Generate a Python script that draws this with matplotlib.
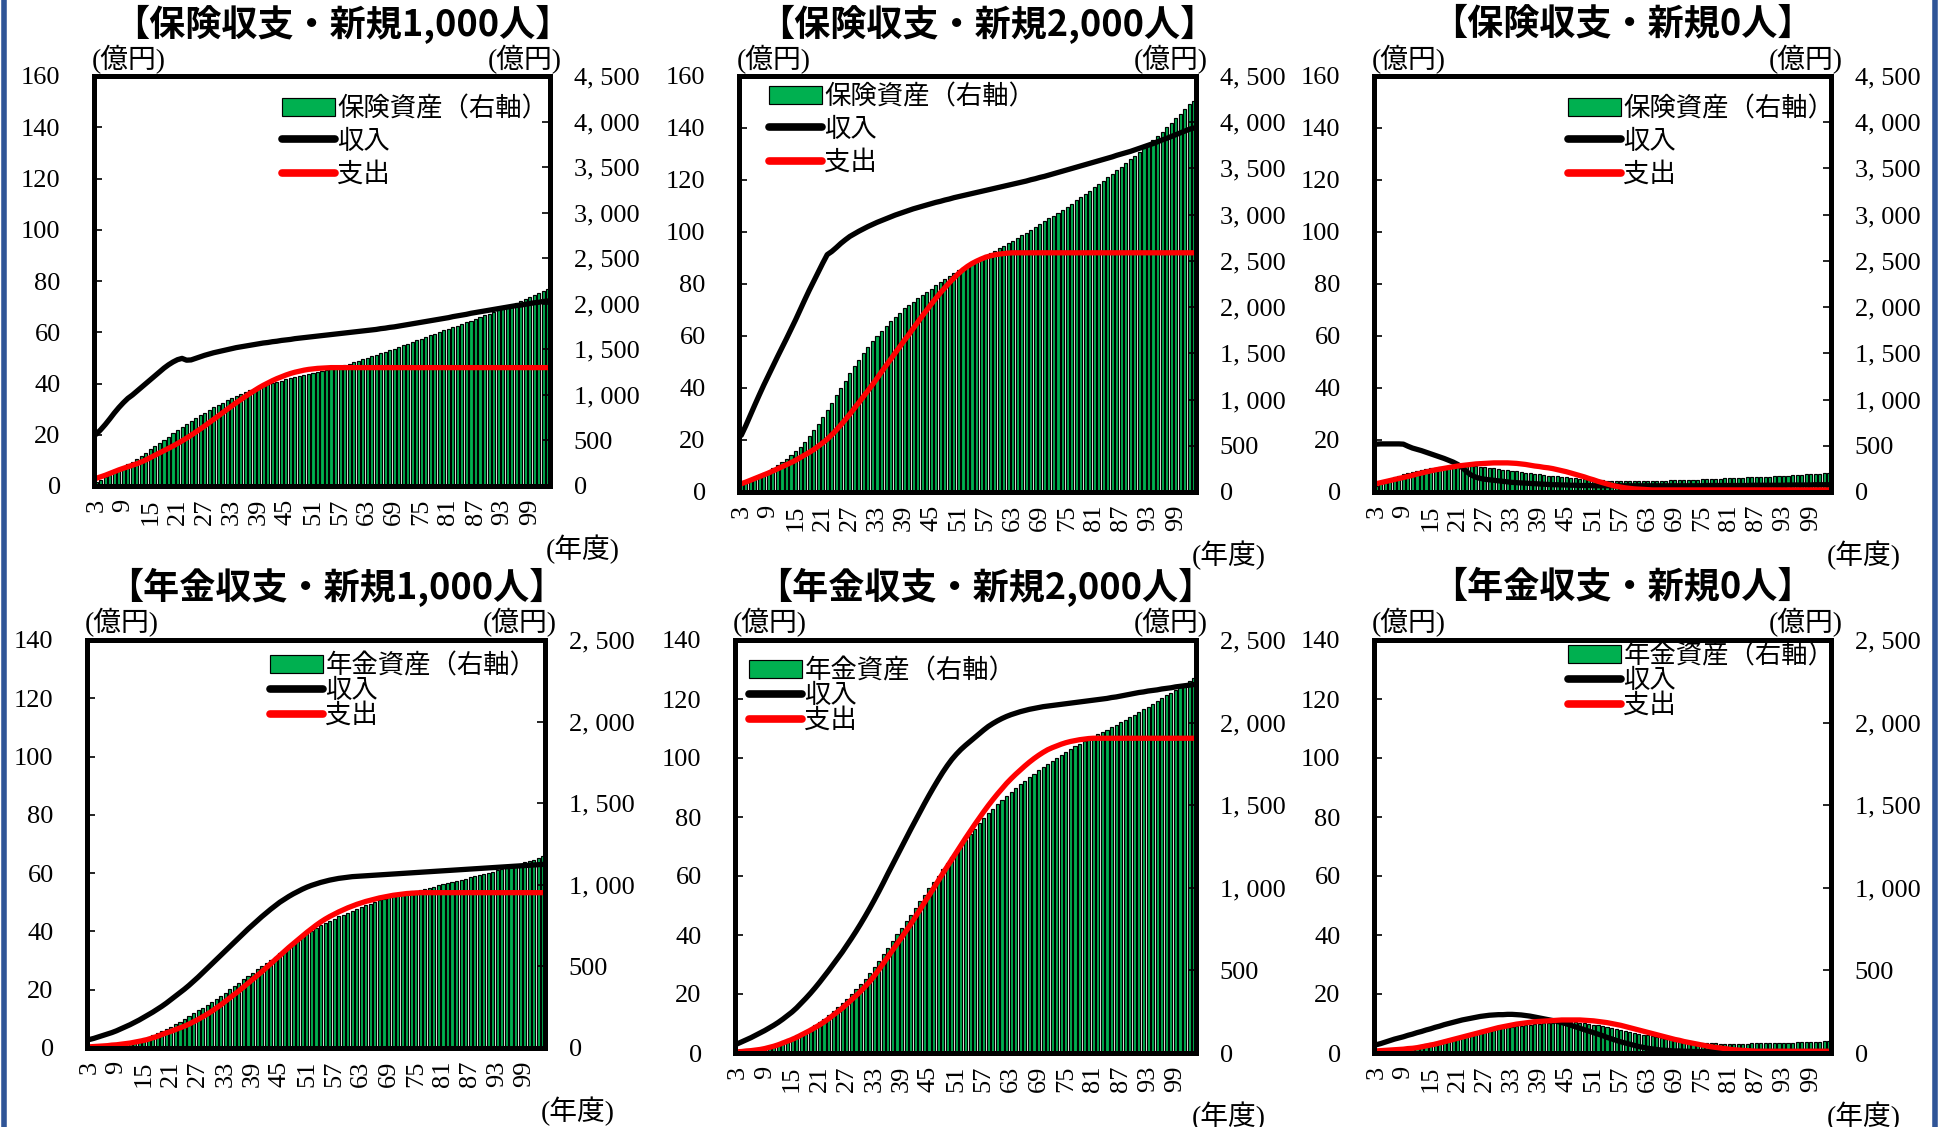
import matplotlib
matplotlib.use("Agg")
import matplotlib.pyplot as plt
from matplotlib.lines import Line2D
from matplotlib.ticker import FuncFormatter

plt.rcParams['font.family'] = ['Liberation Serif', 'Noto Sans CJK JP']

# Fiscal years on the horizontal axis
years = list(range(3, 104))

# 保険収支・新規1,000人
ins_1000_asset = [
    45, 70, 95, 122, 150, 178, 207, 237, 268, 300,
    333, 367, 402, 437, 472, 507, 542, 577, 612, 646,
    680, 713, 745, 776, 806, 835, 863, 890, 916, 941,
    965, 988, 1010, 1031, 1050, 1068, 1085, 1101, 1116, 1130,
    1144, 1157, 1170, 1182, 1194, 1206, 1218, 1230, 1242, 1254,
    1266, 1278, 1290, 1300, 1314, 1328, 1343, 1358, 1374, 1390,
    1406, 1423, 1440, 1457, 1474, 1491, 1509, 1527, 1545, 1563,
    1581, 1599, 1617, 1635, 1653, 1671, 1689, 1707, 1725, 1743,
    1761, 1779, 1797, 1815, 1834, 1853, 1872, 1891, 1910, 1930,
    1950, 1970, 1990, 2010, 2031, 2052, 2073, 2095, 2117, 2140,
    2163,
]
ins_1000_income = [
    20.2, 22.0, 24.0, 26.2, 28.5, 30.6, 32.5, 34.2, 35.5, 37.0,
    38.5, 40.0, 41.5, 43.0, 44.5, 46.0, 47.3, 48.4, 49.3, 49.8,
    49.1, 49.2, 49.8, 50.4, 51.0, 51.5, 52.0, 52.4, 52.8, 53.2,
    53.6, 54.0, 54.3, 54.6, 54.9, 55.2, 55.5, 55.8, 56.0, 56.3,
    56.5, 56.8, 57.0, 57.2, 57.5, 57.7, 57.9, 58.1, 58.3, 58.5,
    58.7, 58.9, 59.1, 59.3, 59.5, 59.7, 59.9, 60.1, 60.3, 60.5,
    60.7, 60.9, 61.1, 61.4, 61.6, 61.9, 62.1, 62.4, 62.7, 63.0,
    63.3, 63.6, 63.9, 64.2, 64.5, 64.8, 65.1, 65.4, 65.7, 66.1,
    66.4, 66.7, 67.0, 67.4, 67.7, 68.0, 68.3, 68.6, 68.9, 69.2,
    69.5, 69.8, 70.1, 70.4, 70.6, 70.9, 71.2, 71.5, 71.7, 72.0,
    72.2,
]
ins_1000_expense = [
    3.0, 3.6, 4.2, 4.9, 5.6, 6.3, 6.9, 7.5, 8.1, 8.7,
    9.4, 10.2, 11.1, 12.0, 12.9, 13.8, 14.7, 15.6, 16.6, 17.6,
    18.7, 19.8, 21.0, 22.2, 23.4, 24.7, 26.0, 27.3, 28.6, 29.9,
    31.2, 32.5, 33.7, 34.9, 36.1, 37.2, 38.3, 39.3, 40.2, 41.1,
    41.9, 42.6, 43.3, 43.9, 44.4, 44.8, 45.2, 45.5, 45.7, 45.9,
    46.0, 46.1, 46.2, 46.2, 46.2, 46.2, 46.2, 46.2, 46.2, 46.2,
    46.2, 46.2, 46.2, 46.2, 46.2, 46.2, 46.2, 46.2, 46.2, 46.2,
    46.2, 46.2, 46.2, 46.2, 46.2, 46.2, 46.2, 46.2, 46.2, 46.2,
    46.2, 46.2, 46.2, 46.2, 46.2, 46.2, 46.2, 46.2, 46.2, 46.2,
    46.2, 46.2, 46.2, 46.2, 46.2, 46.2, 46.2, 46.2, 46.2, 46.2,
    46.2,
]

# 保険収支・新規2,000人
ins_2000_asset = [
    90, 110, 135, 160, 183, 206, 232, 260, 290, 322,
    360, 400, 443, 490, 545, 605, 670, 740, 815, 890,
    965, 1045, 1125, 1205, 1285, 1360, 1430, 1500, 1570, 1630,
    1690, 1745, 1800, 1850, 1895, 1940, 1985, 2025, 2060, 2095,
    2130, 2165, 2200, 2235, 2270, 2305, 2337, 2368, 2398, 2427,
    2455, 2482, 2508, 2534, 2560, 2586, 2612, 2638, 2665, 2692,
    2720, 2749, 2778, 2807, 2837, 2867, 2897, 2928, 2959, 2990,
    3022, 3054, 3087, 3120, 3154, 3189, 3224, 3260, 3296, 3332,
    3368, 3405, 3442, 3480, 3518, 3557, 3597, 3637, 3678, 3720,
    3763, 3807, 3852, 3898, 3945, 3993, 4042, 4092, 4143, 4195,
    4230,
]
ins_2000_income = [
    21.8, 25.5, 29.5, 33.5, 37.4, 41.2, 44.8, 48.4, 52.0, 55.5,
    59.0, 62.6, 66.2, 70.0, 73.8, 77.5, 81.0, 84.5, 88.0, 91.3,
    92.5, 94.0, 95.6, 97.0, 98.3, 99.3, 100.3, 101.2, 102.1, 102.9,
    103.7, 104.4, 105.1, 105.8, 106.5, 107.1, 107.7, 108.3, 108.9, 109.4,
    109.9, 110.4, 110.9, 111.4, 111.8, 112.3, 112.7, 113.2, 113.6, 114.0,
    114.4, 114.8, 115.2, 115.6, 116.0, 116.4, 116.8, 117.2, 117.6, 118.0,
    118.4, 118.8, 119.2, 119.6, 120.1, 120.5, 121.0, 121.4, 121.9, 122.4,
    122.9, 123.4, 123.9, 124.4, 124.9, 125.4, 125.9, 126.4, 126.9, 127.4,
    127.9, 128.4, 128.9, 129.5, 130.0, 130.5, 131.0, 131.6, 132.2, 132.8,
    133.4, 134.0, 134.7, 135.4, 136.0, 136.7, 137.4, 138.1, 138.8, 139.5,
    140.0,
]
ins_2000_expense = [
    3.2, 3.8, 4.5, 5.2, 5.9, 6.6, 7.3, 8.1, 8.9, 9.7,
    10.5, 11.3, 12.2, 13.2, 14.2, 15.2, 16.3, 17.6, 18.9, 20.3,
    22.0, 23.8, 25.8, 27.8, 30.0, 32.2, 34.4, 36.7, 39.0, 41.3,
    43.7, 46.2, 48.6, 51.0, 53.4, 55.8, 58.2, 60.5, 62.9, 65.3,
    67.7, 70.0, 72.3, 74.5, 76.6, 78.6, 80.5, 82.3, 84.0, 85.5,
    86.8, 87.9, 88.8, 89.6, 90.3, 90.8, 91.2, 91.5, 91.7, 91.9,
    92.0, 92.0, 92.0, 92.0, 92.0, 92.0, 92.0, 92.0, 92.0, 92.0,
    92.0, 92.0, 92.0, 92.0, 92.0, 92.0, 92.0, 92.0, 92.0, 92.0,
    92.0, 92.0, 92.0, 92.0, 92.0, 92.0, 92.0, 92.0, 92.0, 92.0,
    92.0, 92.0, 92.0, 92.0, 92.0, 92.0, 92.0, 92.0, 92.0, 92.0,
    92.0,
]

# 保険収支・新規0人
ins_0_asset = [
    70, 95, 118, 140, 160, 177, 192, 205, 217, 228,
    238, 247, 255, 262, 268, 273, 277, 280, 282, 283,
    283, 282, 279, 275, 270, 264, 257, 250, 243, 236,
    229, 222, 215, 208, 202, 196, 190, 184, 178, 173,
    168, 163, 158, 153, 148, 144, 140, 136, 132, 128,
    125, 122, 120, 118, 117, 116, 116, 116, 117, 118,
    119, 120, 121, 123, 124, 126, 127, 129, 130, 132,
    133, 135, 137, 139, 141, 143, 145, 147, 149, 151,
    153, 155, 157, 159, 161, 163, 165, 167, 169, 172,
    175, 178, 181, 184, 187, 190, 193, 196, 199, 202,
    205,
]
ins_0_income = [
    18.4, 18.5, 18.5, 18.5, 18.5, 18.5, 18.4, 17.6, 16.9, 16.4,
    15.9, 15.3, 14.7, 14.1, 13.5, 12.9, 12.2, 11.5, 10.6, 9.4,
    7.8, 6.5, 5.7, 5.2, 4.9, 4.7, 4.5, 4.3, 4.1, 3.9,
    3.7, 3.6, 3.5, 3.4, 3.3, 3.2, 3.1, 3.0, 2.9, 2.8,
    2.8, 2.7, 2.7, 2.6, 2.6, 2.5, 2.5, 2.5, 2.4, 2.4,
    2.4, 2.4, 2.4, 2.4, 2.4, 2.4, 2.4, 2.4, 2.4, 2.4,
    2.4, 2.4, 2.4, 2.4, 2.4, 2.4, 2.4, 2.4, 2.4, 2.4,
    2.4, 2.4, 2.4, 2.5, 2.5, 2.5, 2.5, 2.5, 2.5, 2.5,
    2.5, 2.5, 2.5, 2.6, 2.6, 2.6, 2.6, 2.6, 2.6, 2.6,
    2.6, 2.7, 2.7, 2.7, 2.7, 2.7, 2.7, 2.8, 2.8, 2.8,
    2.8,
]
ins_0_expense = [
    3.2, 3.6, 4.0, 4.4, 4.8, 5.2, 5.6, 6.0, 6.4, 6.9,
    7.3, 7.7, 8.1, 8.5, 8.8, 9.1, 9.4, 9.7, 10.0, 10.2,
    10.4, 10.6, 10.8, 10.9, 11.0, 11.1, 11.2, 11.2, 11.2, 11.2,
    11.1, 11.0, 10.8, 10.6, 10.3, 10.0, 9.8, 9.5, 9.3, 9.0,
    8.6, 8.2, 7.8, 7.3, 6.8, 6.3, 5.8, 5.2, 4.7, 4.1,
    3.6, 3.1, 2.6, 2.2, 1.9, 1.6, 1.4, 1.2, 1.1, 1.0,
    0.9, 0.8, 0.8, 0.8, 0.8, 0.8, 0.8, 0.8, 0.8, 0.8,
    0.8, 0.8, 0.8, 0.8, 0.8, 0.8, 0.8, 0.8, 0.8, 0.8,
    0.8, 0.8, 0.8, 0.8, 0.8, 0.8, 0.8, 0.8, 0.8, 0.8,
    0.8, 0.8, 0.8, 0.8, 0.8, 0.8, 0.8, 0.8, 0.8, 0.8,
    0.8,
]

# 年金収支・新規1,000人
pen_1000_asset = [
    5, 7, 9, 12, 15, 18, 22, 26, 31, 37,
    44, 52, 61, 70, 80, 92, 104, 117, 131, 146,
    162, 178, 195, 212, 230, 248, 266, 284, 302, 320,
    339, 359, 379, 400, 421, 442, 462, 482, 502, 521,
    540, 560, 580, 600, 620, 640, 660, 680, 700, 718,
    735, 751, 766, 780, 793, 806, 818, 830, 842, 853,
    864, 875, 885, 895, 905, 914, 923, 931, 939, 946,
    953, 959, 965, 971, 977, 983, 989, 996, 1003, 1010,
    1017, 1024, 1031, 1038, 1045, 1052, 1059, 1066, 1073, 1080,
    1088, 1096, 1104, 1112, 1120, 1128, 1137, 1146, 1155, 1165,
    1175,
]
pen_1000_income = [
    2.9, 3.3, 3.8, 4.3, 4.8, 5.3, 5.9, 6.6, 7.3, 8.0,
    8.8, 9.6, 10.5, 11.4, 12.3, 13.3, 14.3, 15.4, 16.6, 17.8,
    19.0, 20.2, 21.5, 22.9, 24.3, 25.8, 27.3, 28.8, 30.3, 31.8,
    33.3, 34.8, 36.3, 37.8, 39.3, 40.8, 42.2, 43.6, 45.0, 46.3,
    47.6, 48.8, 50.0, 51.0, 52.0, 52.9, 53.7, 54.5, 55.2, 55.8,
    56.3, 56.8, 57.2, 57.6, 57.9, 58.2, 58.4, 58.6, 58.8, 58.9,
    59.0, 59.1, 59.2, 59.3, 59.4, 59.5, 59.6, 59.7, 59.8, 59.9,
    60.0, 60.1, 60.2, 60.3, 60.4, 60.5, 60.6, 60.7, 60.8, 60.9,
    61.0, 61.1, 61.2, 61.3, 61.4, 61.5, 61.6, 61.7, 61.8, 61.9,
    62.0, 62.1, 62.2, 62.3, 62.4, 62.5, 62.6, 62.7, 62.8, 62.9,
    63.0,
]
pen_1000_expense = [
    0.4, 0.5, 0.6, 0.7, 0.8, 1.0, 1.1, 1.3, 1.5, 1.7,
    2.0, 2.3, 2.6, 3.0, 3.5, 4.0, 4.6, 5.2, 5.7, 6.3,
    6.9, 7.5, 8.2, 9.0, 9.8, 10.7, 11.6, 12.6, 13.7, 14.8,
    16.0, 17.2, 18.4, 19.6, 20.9, 22.2, 23.5, 24.8, 26.1, 27.5,
    28.9, 30.3, 31.7, 33.1, 34.5, 35.8, 37.1, 38.4, 39.7, 40.9,
    42.1, 43.2, 44.2, 45.1, 45.9, 46.7, 47.4, 48.1, 48.7, 49.3,
    49.8, 50.3, 50.7, 51.1, 51.5, 51.8, 52.1, 52.4, 52.6, 52.8,
    53.0, 53.1, 53.2, 53.3, 53.3, 53.3, 53.3, 53.3, 53.3, 53.3,
    53.3, 53.3, 53.3, 53.3, 53.3, 53.3, 53.3, 53.3, 53.3, 53.3,
    53.3, 53.3, 53.3, 53.3, 53.3, 53.3, 53.3, 53.3, 53.3, 53.3,
    53.3,
]

# 年金収支・新規2,000人
pen_2000_asset = [
    8, 11, 15, 19, 24, 30, 36, 43, 51, 60,
    71, 82, 94, 107, 121, 136, 152, 169, 188, 208,
    229, 252, 276, 302, 329, 357, 387, 418, 450, 484,
    520, 558, 598, 638, 678, 718, 758, 798, 838, 878,
    918, 958, 997, 1036, 1074, 1112, 1149, 1186, 1222, 1257,
    1291, 1325, 1358, 1390, 1421, 1451, 1479, 1506, 1532, 1557,
    1581, 1604, 1626, 1648, 1669, 1690, 1711, 1731, 1751, 1770,
    1788, 1806, 1823, 1840, 1856, 1871, 1886, 1900, 1914, 1928,
    1942, 1956, 1971, 1986, 2001, 2016, 2032, 2048, 2064, 2080,
    2097, 2114, 2131, 2148, 2165, 2182, 2199, 2217, 2235, 2254,
    2273,
]
pen_2000_income = [
    3.1, 3.8, 4.5, 5.2, 6.0, 6.8, 7.6, 8.5, 9.4, 10.4,
    11.5, 12.7, 13.9, 15.3, 16.9, 18.5, 20.2, 22.0, 23.9, 25.9,
    27.9, 30.0, 32.1, 34.2, 36.5, 38.8, 41.2, 43.7, 46.3, 49.0,
    51.8, 54.7, 57.7, 60.8, 63.8, 66.8, 69.8, 72.8, 75.8, 78.7,
    81.6, 84.5, 87.3, 90.0, 92.6, 95.1, 97.4, 99.5, 101.3, 102.9,
    104.3, 105.6, 106.9, 108.2, 109.5, 110.7, 111.7, 112.6, 113.4, 114.1,
    114.7, 115.2, 115.7, 116.1, 116.5, 116.8, 117.1, 117.4, 117.6, 117.8,
    118.0, 118.2, 118.4, 118.6, 118.8, 119.0, 119.2, 119.4, 119.6, 119.8,
    120.0, 120.2, 120.5, 120.7, 121.0, 121.3, 121.6, 121.9, 122.2, 122.4,
    122.7, 122.9, 123.1, 123.4, 123.6, 123.8, 124.1, 124.3, 124.5, 124.7,
    124.9,
]
pen_2000_expense = [
    0.4, 0.5, 0.7, 0.8, 1.0, 1.2, 1.5, 1.9, 2.3, 2.8,
    3.4, 4.0, 4.6, 5.3, 6.1, 6.9, 7.7, 8.6, 9.5, 10.5,
    11.6, 12.8, 14.0, 15.2, 16.6, 18.0, 19.4, 20.9, 22.5, 24.2,
    26.1, 28.2, 30.4, 32.6, 34.8, 37.0, 39.2, 41.4, 43.7, 46.1,
    48.5, 51.0, 53.4, 55.8, 58.3, 60.8, 63.2, 65.6, 68.0, 70.4,
    72.8, 75.1, 77.4, 79.6, 81.8, 83.9, 85.9, 87.8, 89.6, 91.4,
    93.0, 94.5, 95.9, 97.3, 98.6, 99.8, 100.9, 101.9, 102.8, 103.5,
    104.1, 104.7, 105.2, 105.6, 105.9, 106.2, 106.4, 106.6, 106.7, 106.7,
    106.7, 106.7, 106.7, 106.7, 106.7, 106.7, 106.7, 106.7, 106.7, 106.7,
    106.7, 106.7, 106.7, 106.7, 106.7, 106.7, 106.7, 106.7, 106.7, 106.7,
    106.7,
]

# 年金収支・新規0人
pen_0_asset = [
    6, 9, 12, 15, 19, 23, 27, 32, 38, 44,
    50, 56, 62, 68, 74, 80, 86, 92, 98, 104,
    110, 116, 122, 127, 132, 137, 142, 147, 151, 155,
    159, 163, 166, 169, 172, 175, 177, 179, 181, 183,
    185, 186, 187, 187, 186, 184, 181, 177, 172, 167,
    162, 157, 152, 146, 140, 134, 128, 122, 116, 111,
    106, 101, 96, 91, 86, 82, 78, 74, 71, 68,
    65, 63, 61, 60, 59, 58, 57, 57, 57, 57,
    57, 57, 57, 58, 58, 59, 59, 60, 60, 61,
    61, 62, 63, 64, 65, 66, 67, 68, 69, 70,
    71,
]
pen_0_income = [
    2.8, 3.2, 3.7, 4.2, 4.7, 5.1, 5.5, 6.0, 6.4, 6.9,
    7.3, 7.8, 8.2, 8.7, 9.1, 9.6, 10.0, 10.4, 10.8, 11.2,
    11.5, 11.8, 12.1, 12.4, 12.6, 12.8, 12.9, 13.0, 13.0, 13.1,
    13.1, 13.0, 12.9, 12.7, 12.5, 12.2, 11.9, 11.6, 11.3, 11.0,
    10.7, 10.3, 9.9, 9.4, 8.9, 8.4, 7.9, 7.4, 6.9, 6.4,
    5.9, 5.3, 4.8, 4.3, 3.8, 3.4, 3.0, 2.6, 2.2, 1.9,
    1.6, 1.4, 1.2, 1.0, 0.9, 0.8, 0.7, 0.7, 0.6, 0.6,
    0.5, 0.5, 0.5, 0.5, 0.5, 0.5, 0.5, 0.5, 0.5, 0.5,
    0.5, 0.5, 0.5, 0.5, 0.5, 0.5, 0.5, 0.5, 0.5, 0.5,
    0.5, 0.5, 0.5, 0.5, 0.5, 0.5, 0.5, 0.5, 0.5, 0.5,
    0.5,
]
pen_0_expense = [
    0.7, 0.8, 0.9, 1.0, 1.1, 1.2, 1.3, 1.5, 1.6, 1.8,
    2.1, 2.4, 2.7, 3.0, 3.4, 3.8, 4.2, 4.6, 5.0, 5.4,
    5.8, 6.2, 6.6, 7.0, 7.4, 7.8, 8.2, 8.6, 8.9, 9.2,
    9.5, 9.8, 10.0, 10.2, 10.4, 10.6, 10.7, 10.8, 10.9, 11.0,
    11.1, 11.2, 11.2, 11.2, 11.2, 11.2, 11.1, 11.0, 10.9, 10.7,
    10.5, 10.3, 10.0, 9.7, 9.4, 9.0, 8.6, 8.2, 7.8, 7.4,
    7.0, 6.6, 6.2, 5.8, 5.4, 5.0, 4.6, 4.3, 3.9, 3.6,
    3.3, 3.0, 2.7, 2.4, 2.1, 1.9, 1.7, 1.5, 1.3, 1.1,
    1.0, 0.9, 0.8, 0.7, 0.6, 0.6, 0.6, 0.6, 0.6, 0.6,
    0.6, 0.6, 0.6, 0.6, 0.6, 0.6, 0.6, 0.6, 0.6, 0.6,
    0.6,
]

# Figure size in pixels, axes boxes are given in pixel corners below
W, H = 1939, 1127
GREEN = '#00B050'
BLUE = '#2F5597'
TICK_FS = 19
LEG_FS = 19

fig = plt.figure(figsize=(W / 100, H / 100), dpi=100)
fig.patch.set_facecolor('white')


def fx(px):
    return px / W


def fy(py):
    return 1 - py / H


def right_fmt(v, _):
    return f"{int(v):,}".replace(",", ", ")


def draw_panel(box, title, asset_label, asset, income, expense,
               ymax, ymax2, legend_xy, legend_gap):
    x0, y0, x1, y1 = box
    ax = fig.add_axes([fx(x0), fy(y1), fx(x1 - x0), (y1 - y0) / H])
    ax2 = ax.twinx()

    idx = list(range(len(years)))

    # Assets as bars on the right axis
    bars = ax2.bar(idx, asset, width=0.68, color=GREEN,
                   edgecolor='black', linewidth=0.85)
    ax2.set_ylim(0, ymax2)
    ax2.set_yticks(range(0, ymax2 + 1, 500))
    ax2.yaxis.set_major_formatter(FuncFormatter(right_fmt))
    ax2.tick_params(axis='y', direction='in', length=6, width=1.2,
                    pad=17, labelsize=TICK_FS)

    # Income / expense lines on the left axis, drawn above the bars
    ln_in, = ax.plot(idx, income, color='black', lw=3.8,
                     solid_capstyle='round')
    ln_out, = ax.plot(idx, expense, color='red', lw=3.8,
                      solid_capstyle='round')
    ax.set_zorder(ax2.get_zorder() + 1)
    ax.patch.set_visible(False)

    ax.set_xlim(-0.5, len(years) - 0.5)
    ax.set_ylim(0, ymax)
    ax.set_yticks(range(0, ymax + 1, 20))
    ax.tick_params(axis='y', direction='in', length=6, width=1.2,
                   pad=24, labelsize=TICK_FS)
    ax.set_xticks(idx[::6])
    ax.set_xticklabels([str(y) for y in years[::6]], rotation=90)
    ax.tick_params(axis='x', length=0, pad=9, labelsize=TICK_FS)

    for s in ax.spines.values():
        s.set_linewidth(3.6)
    for s in ax2.spines.values():
        s.set_visible(False)

    leg = ax.legend([bars, ln_in, ln_out], [asset_label, '収入', '支出'],
                    loc='upper left',
                    bbox_to_anchor=(fx(legend_xy[0]), fy(legend_xy[1])),
                    bbox_transform=fig.transFigure,
                    frameon=False, fontsize=LEG_FS, handlelength=2.0,
                    handletextpad=0.1, labelspacing=legend_gap,
                    borderpad=0, borderaxespad=0)
    for h in leg.get_lines():
        h.set_linewidth(5.5)

    # Titles and unit labels
    top_row = y0 < 300
    fig.text(fx((x0 + x1) / 2 + 20), fy(24 if top_row else 587), title,
             ha='center', va='center', fontsize=26, fontweight='bold',
             family='Noto Sans CJK JP')
    uy = 60 if top_row else 623
    fig.text(fx(x0 - 2), fy(uy), '(億円)', ha='left', va='center',
             fontsize=20)
    fig.text(fx(x1 + 12), fy(uy), '(億円)', ha='right', va='center',
             fontsize=20)
    fig.text(fx(x1 - 4), fy(y1 + 63), '(年度)', ha='left', va='center',
             fontsize=20)


draw_panel((94, 76, 550, 486), '【保険収支・新規1,000人】', '保険資産（右軸）',
           ins_1000_asset, ins_1000_income, ins_1000_expense,
           160, 4500, (282, 96), 0.32)
draw_panel((739, 76, 1196, 492), '【保険収支・新規2,000人】', '保険資産（右軸）',
           ins_2000_asset, ins_2000_income, ins_2000_expense,
           160, 4500, (769, 84), 0.32)
draw_panel((1374, 76, 1831, 492), '【保険収支・新規0人】', '保険資産（右軸）',
           ins_0_asset, ins_0_income, ins_0_expense,
           160, 4500, (1568, 96), 0.32)
draw_panel((87, 640, 545, 1048), '【年金収支・新規1,000人】', '年金資産（右軸）',
           pen_1000_asset, pen_1000_income, pen_1000_expense,
           140, 2500, (270, 653), 0.02)
draw_panel((735, 640, 1196, 1053), '【年金収支・新規2,000人】', '年金資産（右軸）',
           pen_2000_asset, pen_2000_income, pen_2000_expense,
           140, 2500, (749, 658), 0.02)
draw_panel((1374, 640, 1831, 1053), '【年金収支・新規0人】', '年金資産（右軸）',
           pen_0_asset, pen_0_income, pen_0_expense,
           140, 2500, (1568, 643), 0.02)

# Slide border on both sides
fig.add_artist(Line2D([fx(4), fx(4)], [0, 1], color=BLUE, lw=4,
                      transform=fig.transFigure))
fig.add_artist(Line2D([fx(1935), fx(1935)], [0, 1], color=BLUE, lw=4,
                      transform=fig.transFigure))

fig.savefig('out.png', dpi=100)
